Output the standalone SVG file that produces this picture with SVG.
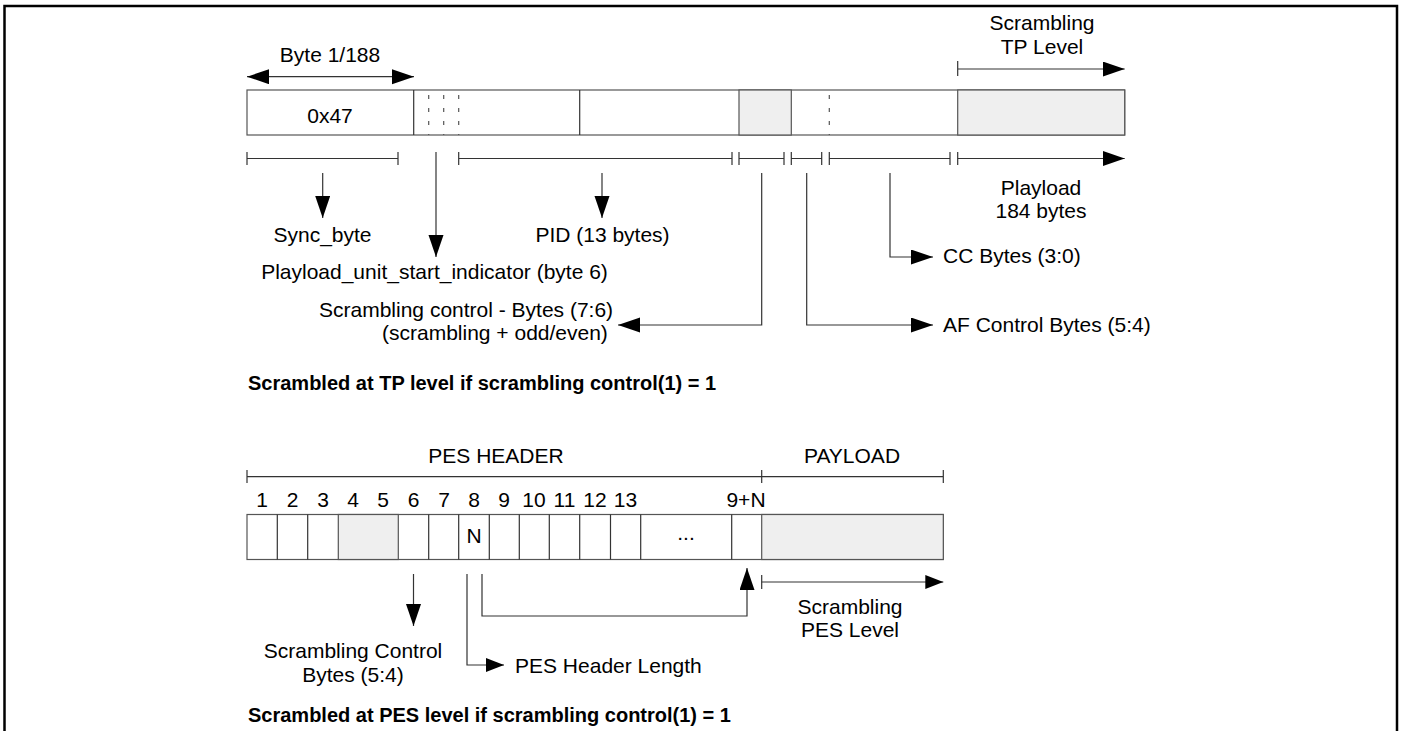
<svg xmlns="http://www.w3.org/2000/svg" width="1405" height="731" viewBox="0 0 1405 731">
<style>
text{font-family:"Liberation Sans",Arial,sans-serif;font-size:21px;fill:#000}
.c{text-anchor:middle}
.b{font-weight:bold;font-size:20px}
.ln{fill:none;stroke:#333;stroke-width:1.2}
.cell{fill:#fff;stroke:#555;stroke-width:1.2}
.g{fill:#efefef}
.dash{stroke:#555;stroke-width:1.2;stroke-dasharray:4 9}
</style>
<defs>
<marker id="ah" markerUnits="userSpaceOnUse" markerWidth="23" markerHeight="16" refX="22" refY="7.5" orient="auto-start-reverse"><path d="M0,0 L22,7.5 L0,15 z" fill="#000"/></marker>
<marker id="ahs" markerUnits="userSpaceOnUse" markerWidth="20" markerHeight="15" refX="18" refY="7" orient="auto"><path d="M0,0 L18,7 L0,14 z" fill="#000"/></marker>
</defs>
<path d="M4.5,731 V6 H1397 V731" fill="none" stroke="#000" stroke-width="2.5"/>

<g id="tp-packet">
<rect class="cell" x="247" y="90" width="877.7" height="45"/>
<rect class="cell g" x="739" y="90" width="52.3" height="45"/>
<rect class="cell g" x="957.7" y="90" width="167" height="45"/>
<line class="ln" x1="413.7" y1="90" x2="413.7" y2="135"/>
<line class="ln" x1="579.7" y1="90" x2="579.7" y2="135"/>
<line class="dash" x1="428.7" y1="95" x2="428.7" y2="135"/>
<line class="dash" x1="443.7" y1="95" x2="443.7" y2="135"/>
<line class="dash" x1="458.7" y1="95" x2="458.7" y2="135"/>
<line class="dash" x1="829.3" y1="95" x2="829.3" y2="135"/>
<text class="c" x="330" y="123">0x47</text>
</g>

<g id="labels-top">
<text class="c" x="330" y="62">Byte 1/188</text>
<text class="c" x="1042" y="30">Scrambling</text>
<text class="c" x="1042" y="54">TP Level</text>
<text class="c" x="322.5" y="242">Sync_byte</text>
<text class="c" x="602.5" y="242">PID (13 bytes)</text>
<text class="c" x="434.5" y="279">Playload_unit_start_indicator (byte 6)</text>
<text x="319" y="317">Scrambling control - Bytes (7:6)</text>
<text x="382" y="340">(scrambling + odd/even)</text>
<text class="c" x="1041" y="195">Playload</text>
<text class="c" x="1041" y="218">184 bytes</text>
<text x="943" y="263">CC Bytes (3:0)</text>
<text x="943" y="332">AF Control Bytes (5:4)</text>
<text class="b" x="248" y="390">Scrambled at TP level if scrambling control(1) = 1</text>
</g>

<g id="pes-packet">
<rect class="cell" x="247" y="514.5" width="696.3" height="45"/>
<rect class="cell g" x="338.3" y="514.5" width="60" height="45"/>
<rect class="cell g" x="761.7" y="514.5" width="181.6" height="45"/>
<path class="ln" d="M277.3,514.5V559.5M307.7,514.5V559.5M428.7,514.5V559.5M458.7,514.5V559.5M489.3,514.5V559.5M519.3,514.5V559.5M549.3,514.5V559.5M579.7,514.5V559.5M610.5,514.5V559.5M640.7,514.5V559.5M731.7,514.5V559.5"/>
<text class="c" x="474" y="543">N</text>
<text class="c" x="686" y="540">...</text>
</g>

<g id="labels-bottom">
<text class="c" x="496" y="463">PES HEADER</text>
<text class="c" x="852" y="463">PAYLOAD</text>
<text class="c" x="262" y="507">1</text>
<text class="c" x="292.5" y="507">2</text>
<text class="c" x="323" y="507">3</text>
<text class="c" x="353" y="507">4</text>
<text class="c" x="383" y="507">5</text>
<text class="c" x="413.5" y="507">6</text>
<text class="c" x="444" y="507">7</text>
<text class="c" x="474" y="507">8</text>
<text class="c" x="504" y="507">9</text>
<text class="c" x="534" y="507">10</text>
<text class="c" x="564.5" y="507">11</text>
<text class="c" x="595" y="507">12</text>
<text class="c" x="625.5" y="507">13</text>
<text class="c" x="746" y="507">9+N</text>
<text class="c" x="850" y="614">Scrambling</text>
<text class="c" x="850" y="637">PES Level</text>
<text class="c" x="353" y="658">Scrambling Control</text>
<text class="c" x="353" y="682">Bytes (5:4)</text>
<text x="515" y="673">PES Header Length</text>
<text class="b" x="248" y="722">Scrambled at PES level if scrambling control(1) = 1</text>
</g>

<g id="connectors">
<line class="ln" x1="247" y1="76.7" x2="414" y2="76.7" marker-start="url(#ah)" marker-end="url(#ah)"/>
<path class="ln" d="M957.7,61V76M957.7,69H1124.7" marker-end="url(#ah)"/>
<path class="ln" d="M247,152V165M247,158.5H398M398,152V165"/>
<path class="ln" d="M458.7,152V165M458.7,158.5H732M732,152V165"/>
<path class="ln" d="M739,152V165M739,158.5H784M784,152V165"/>
<path class="ln" d="M791.3,152V165M791.3,158.5H821.7M821.7,152V165"/>
<path class="ln" d="M829.3,152V165M829.3,158.5H950M950,152V165"/>
<path class="ln" d="M957.7,152V165"/>
<line class="ln" x1="957.7" y1="158.5" x2="1124.7" y2="158.5" marker-end="url(#ah)"/>
<line class="ln" x1="322.7" y1="173" x2="322.7" y2="218" marker-end="url(#ah)"/>
<line class="ln" x1="436" y1="152" x2="436" y2="257" marker-end="url(#ah)"/>
<line class="ln" x1="602" y1="173" x2="602" y2="218" marker-end="url(#ah)"/>
<polyline class="ln" points="761.7,173 761.7,325 618,325" marker-end="url(#ah)"/>
<polyline class="ln" points="806.7,173 806.7,325 933,325" marker-end="url(#ah)"/>
<polyline class="ln" points="890,173 890,257 933,257" marker-end="url(#ah)"/>

<path class="ln" d="M247,470V483M247,476.7H943.3M761.7,470V483M943.3,470V483"/>
<path class="ln" d="M761.7,575V589"/>
<line class="ln" x1="761.7" y1="582" x2="943.3" y2="582" marker-end="url(#ahs)"/>
<line class="ln" x1="413.5" y1="574" x2="413.5" y2="626" marker-end="url(#ah)"/>
<polyline class="ln" points="467,574 467,665 504,665" marker-end="url(#ahs)"/>
<polyline class="ln" points="482,574 482,616 747,616 747,568" marker-end="url(#ah)"/>
</g>
</svg>
